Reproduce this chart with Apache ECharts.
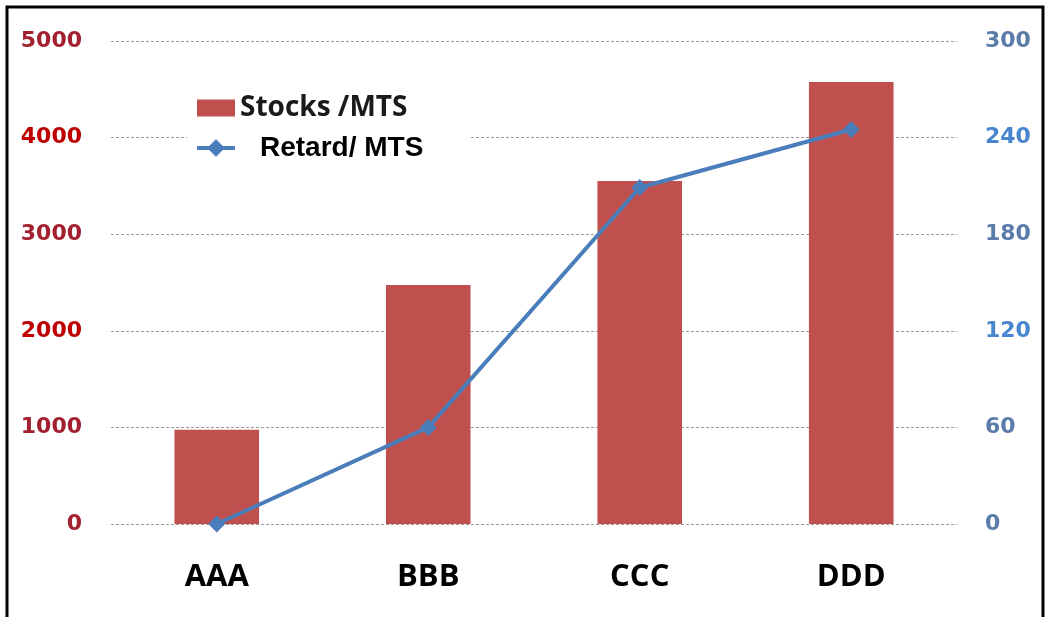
<!DOCTYPE html>
<html>
<head>
<meta charset="utf-8">
<script src="https://cdn.jsdelivr.net/npm/echarts@6/dist/echarts.min.js"></script>
<style>
  html, body { margin: 0; padding: 0; background: #fff; }
  #chart { width: 1048px; height: 617px; }
</style>
</head>
<body>
<div id="chart"></div>
<script>
// Categories and the two measured series
const categories = ['AAA', 'BBB', 'CCC', 'DDD'];
const stocksPerMts = [975, 2475, 3550, 4575];
const retardPerMts = [0, 60, 209, 245];

const stocksName = 'Stocks /MTS';
const retardName = 'Retard/ MTS';

const chart = echarts.init(document.getElementById('chart'));

chart.setOption({
  animation: false,
  backgroundColor: '#ffffff',
  grid: { left: 111, right: 91, top: 41, bottom: 93 },
  graphic: [{
    type: 'rect',
    shape: { x: 7, y: 7, width: 1036, height: 700 },
    style: { fill: 'none', stroke: '#000', lineWidth: 3 },
    z: 100
  }],
  legend: [{
    data: [{ name: stocksName, icon: 'rect' }],
    left: 187, top: 88,
    padding: [6, 10, 6, 10],
    backgroundColor: '#ffffff',
    itemWidth: 38, itemHeight: 17,
    textStyle: { fontFamily: 'Open Sans', fontWeight: 'bold', fontSize: 28, color: '#1a1a1a' }
  }, {
    data: [retardName],
    left: 187, top: 130,
    padding: [4, 46, 4, 8],
    backgroundColor: '#ffffff',
    itemWidth: 38, itemHeight: 22,
    lineStyle: { width: 4 },
    textStyle: { fontFamily: 'Liberation Sans', fontWeight: 'bold', fontSize: 28, color: '#000', padding: [0, 0, 0, 20] }
  }],
  xAxis: {
    type: 'category',
    data: categories,
    axisLine: { show: false },
    axisTick: { show: false },
    axisLabel: {
      margin: 38,
      fontFamily: 'Open Sans', fontWeight: 'bold', fontSize: 31, color: '#000'
    }
  },
  yAxis: [{
    type: 'value',
    min: 0, max: 5000, interval: 1000,
    axisLine: { show: false },
    axisTick: { show: false },
    axisLabel: {
      margin: 29,
      formatter: (v) => String(v),
      fontFamily: 'DejaVu Sans', fontWeight: 'bold', fontSize: 22,
      color: (v) => (Number(v) / 1000) % 2 === 0 && Number(v) !== 0 ? '#c00000' : '#a3202e'
    },
    splitLine: { lineStyle: { color: '#9a9a9a', type: [3, 2], width: 1 } }
  }, {
    type: 'value',
    min: 0, max: 300, interval: 60,
    position: 'right',
    axisLine: { show: false },
    axisTick: { show: false },
    axisLabel: {
      margin: 28,
      formatter: (v) => String(v),
      fontFamily: 'DejaVu Sans', fontWeight: 'bold', fontSize: 22,
      color: (v) => (Number(v) / 60) % 2 === 0 && Number(v) !== 0 ? '#4a86d0' : '#5a7ca8'
    },
    splitLine: { show: false }
  }],
  series: [{
    name: stocksName,
    type: 'bar',
    data: stocksPerMts,
    barWidth: '40%',
    itemStyle: { color: '#c0504d' }
  }, {
    name: retardName,
    type: 'line',
    yAxisIndex: 1,
    data: retardPerMts,
    symbol: 'diamond',
    symbolSize: 17,
    lineStyle: { color: '#4a7ebb', width: 4 },
    itemStyle: { color: '#4a7ebb' }
  }]
});
</script>
</body>
</html>
